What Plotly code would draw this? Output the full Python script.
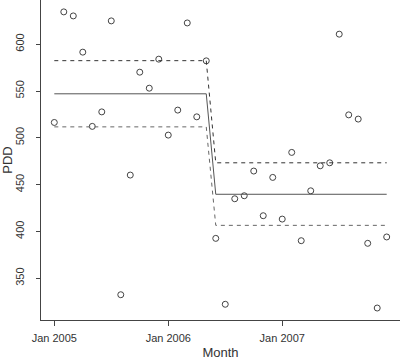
import plotly.graph_objects as go

months = [f"{y}-{m:02d}" for y in (2005, 2006, 2007) for m in range(1, 13)]
pdd = [516.4, 634.5, 630.2, 591.5, 512.2, 527.7, 624.9, 332.4, 460.2, 570.1, 553.0, 584.0,
       502.9, 529.6, 622.7, 522.4, 582.2, 392.6, 322.2, 434.9, 438.1, 464.5, 416.8, 457.7,
       413.2, 484.4, 390.1, 443.4, 470.1, 473.3, 610.7, 524.5, 520.0, 387.3, 318.2, 394.1]

break_index = 17
fit_levels = [547.0, 439.7]
upper_levels = [582.4, 473.3]
lower_levels = [511.7, 406.5]

tick_months = ["2005-01", "2006-01", "2007-01"]
tick_labels = ["Jan 2005", "Jan 2006", "Jan 2007"]
y_ticks = [350, 400, 450, 500, 550, 600]


def step(levels):
    return [levels[0] if i < break_index else levels[1] for i in range(len(months))]


fig = go.Figure()
fig.add_trace(go.Scatter(x=months, y=pdd, mode="markers", cliponaxis=False,
                         marker=dict(symbol="circle-open", size=6, color="#444",
                                     line=dict(width=1, color="#444")),
                         showlegend=False))
fig.add_trace(go.Scatter(x=months, y=step(fit_levels), mode="lines",
                         line=dict(color="#555", width=1), showlegend=False))
fig.add_trace(go.Scatter(x=months, y=step(upper_levels), mode="lines",
                         line=dict(color="#333", width=1, dash="4px,4px"), showlegend=False))
fig.add_trace(go.Scatter(x=months, y=step(lower_levels), mode="lines",
                         line=dict(color="#666", width=1, dash="4px,4px"), showlegend=False))

fig.update_layout(
    width=400, height=360,
    margin=dict(l=41, r=0, t=0, b=40, autoexpand=False),
    paper_bgcolor="white", plot_bgcolor="white",
    font=dict(family="Liberation Sans, Arial", size=11, color="#333"),
    xaxis=dict(type="category", range=[-1.4, 36.4], tickmode="array",
               tickvals=tick_months, ticktext=tick_labels, automargin=False,
               showgrid=False, zeroline=False, showline=True, linecolor="#444", linewidth=1,
               ticks="outside", ticklen=5, tickcolor="#444", ticklabelstandoff=3,
               title=dict(text="Month", standoff=5)),
    yaxis=dict(range=[305.4, 647.2], tickvals=y_ticks, tickangle=-90, automargin=False,
               showgrid=False, zeroline=False, showline=True, linecolor="#444", linewidth=1,
               ticks="outside", ticklen=4, tickcolor="#444", ticklabelstandoff=8,
               title=dict(text="PDD", standoff=0)),
)

fig.write_html("out.html", config={"displayModeBar": False},
               post_script="document.body.style.margin='0';document.body.style.overflow='hidden';")
